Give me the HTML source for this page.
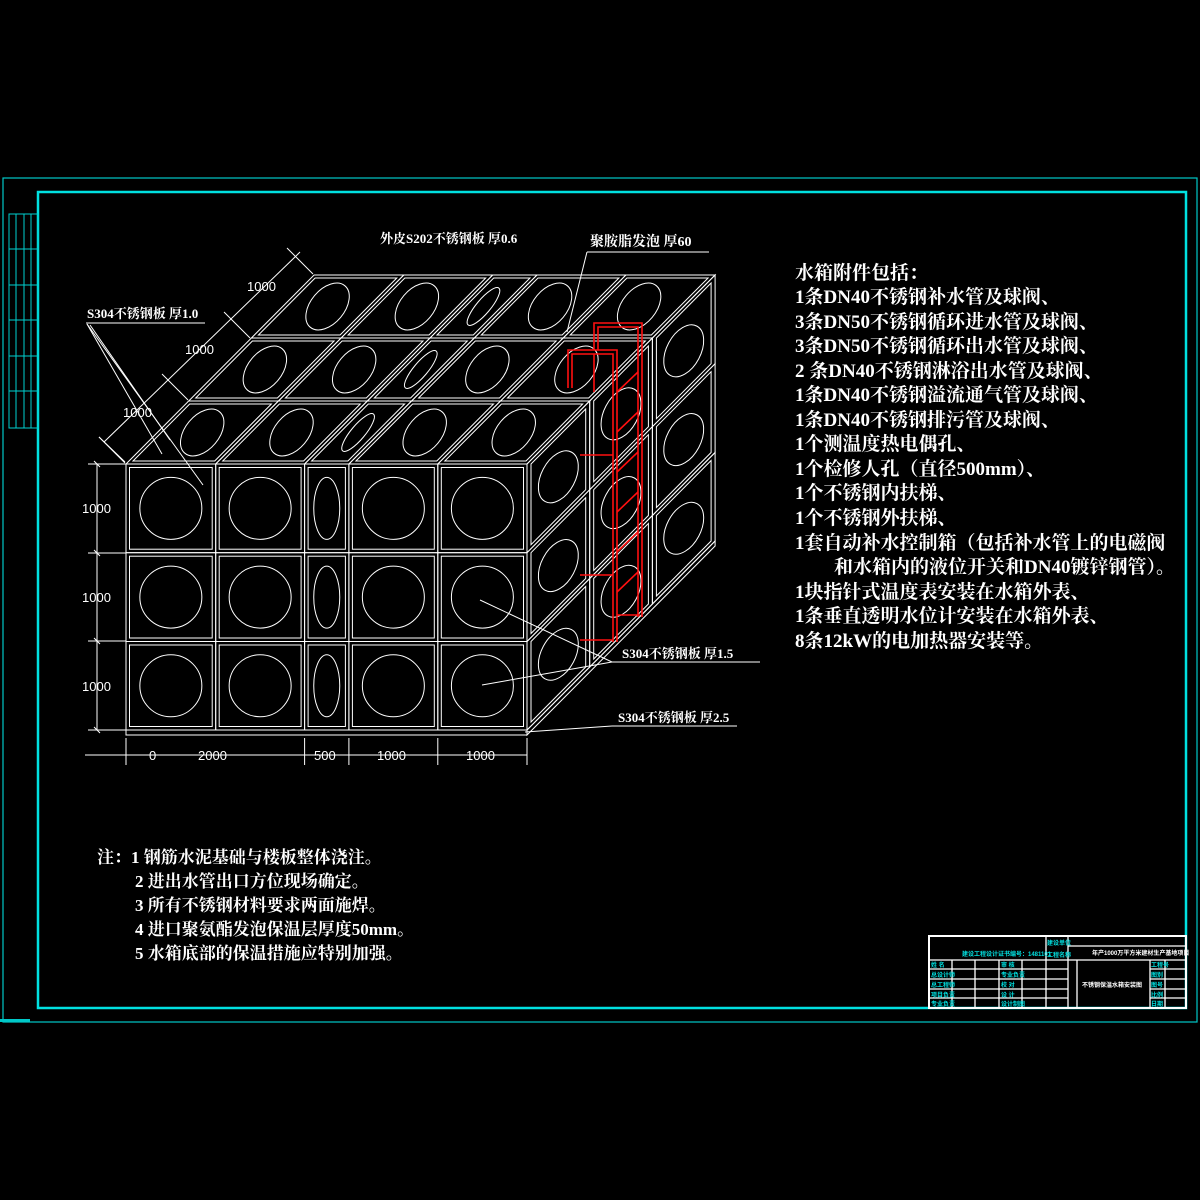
<!DOCTYPE html>
<html><head><meta charset="utf-8"><style>
html,body{margin:0;padding:0;background:#000;width:1200px;height:1200px;overflow:hidden}
svg{display:block}
.t{font-family:"Liberation Serif","Noto Serif CJK SC",serif;font-weight:bold;fill:#fff}
.d{font-family:"Liberation Sans","DejaVu Sans",sans-serif;fill:#fff;font-size:13px}
.c{font-family:"Liberation Sans","Noto Sans CJK SC",sans-serif;font-weight:bold;fill:#00e0e0;font-size:6px}
</style></head><body>
<svg id="s" width="1200" height="1200" viewBox="0 0 1200 1200" xmlns="http://www.w3.org/2000/svg">
<rect x="3" y="178" width="1194" height="844" fill="none" stroke="#00c8c8" stroke-width="1.2"/>
<rect x="38" y="192" width="1148" height="816" fill="none" stroke="#00e0e0" stroke-width="2.5"/>
<g id="strip" stroke="#00d0d0" stroke-width="1" fill="none">
<rect x="9" y="214" width="29" height="214"/>
<line x1="16" y1="214" x2="16" y2="428"/><line x1="24" y1="214" x2="24" y2="428"/><line x1="31" y1="214" x2="31" y2="428"/>
<line x1="9" y1="249" x2="38" y2="249"/><line x1="9" y1="285" x2="38" y2="285"/><line x1="9" y1="320" x2="38" y2="320"/><line x1="9" y1="356" x2="38" y2="356"/><line x1="9" y1="391" x2="38" y2="391"/>
</g>
<g id="g" fill="none" stroke="#fff" stroke-width="1"></g>
<g id="red" fill="none" stroke="#ff1010" stroke-width="1.6">
<polyline points="568,388 568,350 617,350 617,642"/>
<polyline points="572,388 572,354 613,354 613,642"/>
<polyline points="594,350 594,323 642,323 642,617"/>
<polyline points="598,350 598,327 638,327 638,617"/>
<line x1="594" y1="354" x2="594" y2="392"/>
<line x1="617" y1="392" x2="638" y2="372"/><line x1="617" y1="432" x2="638" y2="412"/>
<line x1="617" y1="472" x2="638" y2="452"/><line x1="617" y1="512" x2="638" y2="492"/>
<line x1="617" y1="552" x2="638" y2="532"/><line x1="617" y1="592" x2="638" y2="572"/>
<line x1="580" y1="455" x2="613" y2="455"/><line x1="580" y1="575" x2="613" y2="575"/>
<line x1="580" y1="640" x2="613" y2="640"/><line x1="617" y1="615" x2="640" y2="615"/>
</g>
<g class="t">
<text x="380" y="243" font-size="13">外皮S202不锈钢板  厚0.6</text>
<text x="590" y="246" font-size="14">聚胺脂发泡   厚60</text>
<text x="87" y="318" font-size="13">S304不锈钢板  厚1.0</text>
<text x="622" y="658" font-size="13">S304不锈钢板  厚1.5</text>
<text x="618" y="722" font-size="13">S304不锈钢板  厚2.5</text>
</g>
<g class="t" font-size="19">
<text x="795" y="279">水箱附件包括：</text>
<text x="795" y="303">1条DN40不锈钢补水管及球阀、</text>
<text x="795" y="328">3条DN50不锈钢循环进水管及球阀、</text>
<text x="795" y="352">3条DN50不锈钢循环出水管及球阀、</text>
<text x="795" y="377">2 条DN40不锈钢淋浴出水管及球阀、</text>
<text x="795" y="401">1条DN40不锈钢溢流通气管及球阀、</text>
<text x="795" y="426">1条DN40不锈钢排污管及球阀、</text>
<text x="795" y="450">1个测温度热电偶孔、</text>
<text x="795" y="475">1个检修人孔（直径500mm）、</text>
<text x="795" y="499">1个不锈钢内扶梯、</text>
<text x="795" y="524">1个不锈钢外扶梯、</text>
<text x="795" y="549">1套自动补水控制箱（包括补水管上的电磁阀</text>
<text x="834" y="573">和水箱内的液位开关和DN40镀锌钢管）。</text>
<text x="795" y="598">1块指针式温度表安装在水箱外表、</text>
<text x="795" y="622">1条垂直透明水位计安装在水箱外表、</text>
<text x="795" y="647">8条12kW的电加热器安装等。</text>
</g>
<g class="t" font-size="17">
<text x="97" y="863">注：1  钢筋水泥基础与楼板整体浇注。</text>
<text x="135" y="887">2  进出水管出口方位现场确定。</text>
<text x="135" y="911">3  所有不锈钢材料要求两面施焊。</text>
<text x="135" y="935">4  进口聚氨酯发泡保温层厚度50mm。</text>
<text x="135" y="959">5  水箱底部的保温措施应特别加强。</text>
</g>
<g class="d">
<text x="82" y="513">1000</text><text x="82" y="602">1000</text><text x="82" y="691">1000</text>
<text x="149" y="760">0</text><text x="198" y="760">2000</text><text x="314" y="760">500</text><text x="377" y="760">1000</text><text x="466" y="760">1000</text>
<text x="123" y="417">1000</text><text x="185" y="354">1000</text><text x="247" y="291">1000</text>
</g>
<g id="tb" fill="none" stroke="#fff" stroke-width="1.3">
<rect x="929" y="936" width="257" height="72" stroke-width="2"/>
<line x1="929" y1="960" x2="1186" y2="960"/>
<line x1="929" y1="969" x2="1068" y2="969"/><line x1="929" y1="979" x2="1068" y2="979"/><line x1="929" y1="989" x2="1068" y2="989"/><line x1="929" y1="998" x2="1068" y2="998"/>
<line x1="1150" y1="969" x2="1186" y2="969"/><line x1="1150" y1="979" x2="1186" y2="979"/><line x1="1150" y1="989" x2="1186" y2="989"/><line x1="1150" y1="998" x2="1186" y2="998"/>
<line x1="1068" y1="946" x2="1186" y2="946"/>
<line x1="952" y1="960" x2="952" y2="1008"/><line x1="975" y1="960" x2="975" y2="1008"/><line x1="999" y1="960" x2="999" y2="1008"/><line x1="1022" y1="960" x2="1022" y2="1008"/><line x1="1046" y1="936" x2="1046" y2="1008"/>
<line x1="1068" y1="936" x2="1068" y2="1008"/><line x1="1077" y1="960" x2="1077" y2="1008"/><line x1="1150" y1="960" x2="1150" y2="1008"/><line x1="1165" y1="960" x2="1165" y2="1008"/>
</g>
<g class="c">
<text x="962" y="956">建设工程设计证书编号：1481101</text>
<text x="1047" y="945">建设单位</text><text x="1047" y="957">工程名称</text>
<text x="931" y="967">姓 名</text><text x="931" y="977">总设计师</text><text x="931" y="987">总工程师</text><text x="931" y="997">项目负责</text><text x="931" y="1006">专业负责</text>
<text x="1001" y="967">审 核</text><text x="1001" y="977">专业负责</text><text x="1001" y="987">校 对</text><text x="1001" y="997">设 计</text><text x="1001" y="1006">设计制图</text>
<text x="1151" y="967">工程号</text><text x="1151" y="977">图别</text><text x="1151" y="987">图号</text><text x="1151" y="997">比例</text><text x="1151" y="1006">日期</text>
</g>
<g fill="#fff" font-family="Liberation Sans,Noto Sans CJK SC,sans-serif" font-size="6" font-weight="bold">
<text x="1092" y="955">年产1000万平方米建材生产基地项目</text>
<text x="1082" y="987">不锈钢保温水箱安装图</text>
</g>
<rect x="0" y="1019" width="30" height="3" fill="#00c8c8"/>
</svg>
<script>
var g=document.getElementById('g'),NS='http://www.w3.org/2000/svg';
function el(t,a){var e=document.createElementNS(NS,t);for(var k in a)e.setAttribute(k,a[k]);g.appendChild(e);return e;}
function L(x1,y1,x2,y2){el('line',{x1:x1,y1:y1,x2:x2,y2:y2});}
function P(pts){el('polygon',{points:pts.map(function(p){return p[0].toFixed(1)+','+p[1].toFixed(1)}).join(' ')});}
var cols=[126,215.7,304.6,348.9,437.8,527],rows=[464,552.7,641.5,730];
for(var i=0;i<5;i++)for(var j=0;j<3;j++){
 var x0=cols[i],x1=cols[i+1],y0=rows[j],y1=rows[j+1];
 el('rect',{x:x0,y:y0,width:x1-x0,height:y1-y0});
 el('rect',{x:x0+3.5,y:y0+3.5,width:x1-x0-7,height:y1-y0-7});
 var cx=(x0+x1)/2,cy=(y0+y1)/2,rx=(x1-x0)>60?31:13;
 el('ellipse',{cx:cx,cy:cy,rx:rx,ry:31});
}
el('rect',{x:126,y:730,width:401,height:5});
function T(u,v){return [u+v*0.995,464-v];}
for(var i=0;i<5;i++)for(var k=0;k<3;k++){
 var u0=cols[i],u1=cols[i+1],v0=k*63,v1=(k+1)*63;
 P([T(u0,v0),T(u1,v0),T(u1,v1),T(u0,v1)]);
 P([T(u0+4,v0+3),T(u1-4,v0+3),T(u1-4,v1-3),T(u0+4,v1-3)]);
 var c=T((u0+u1)/2,(v0+v1)/2),wide=(u1-u0)>60;
 el('ellipse',{cx:0,cy:0,rx:wide?27:24,ry:wide?17:7,transform:'translate('+c[0]+','+c[1]+') rotate(-50)'});
}
function R(w,h){return [527+w*0.995, h-w];}
for(var k=0;k<3;k++)for(var j=0;j<3;j++){
 var w0=k*63,w1=(k+1)*63,h0=rows[j],h1=rows[j+1];
 P([R(w0,h0),R(w1,h0),R(w1,h1),R(w0,h1)]);
 P([R(w0+4,h0+4),R(w1-4,h0+4),R(w1-4,h1-4),R(w0+4,h1-4)]);
 var c=R((w0+w1)/2,(h0+h1)/2);
 el('ellipse',{cx:0,cy:0,rx:28,ry:17,transform:'translate('+c[0]+','+c[1]+') rotate(-62)'});
}
P([R(0,730),R(189,730),R(189,735),R(0,735)]);
L(97,464,97,730);[464,553,641,730].forEach(function(y){L(88,y,126,y);L(94,y-3,100,y+3);});
L(85,755,527,755);[126,304.6,348.9,437.8,527].forEach(function(x){L(x,738,x,765);});
L(99,437,125,462);[[126,464],[189,401],[251,339],[314,275]].forEach(function(p){L(p[0]-27,p[1]-27,p[0]-1,p[1]-1);});
L(104,442,296,256);L(296,256,300,252);
L(86,323,205,323);L(87,324,162,454);L(87,324,203,485);L(90,325,170,440);
L(587,252,709,252);L(587,252,567,332);
L(480,600,612,662);L(612,662,760,662);L(482,685,612,662);
L(525,732,612,726);L(612,726,737,726);
</script>
</body></html>
